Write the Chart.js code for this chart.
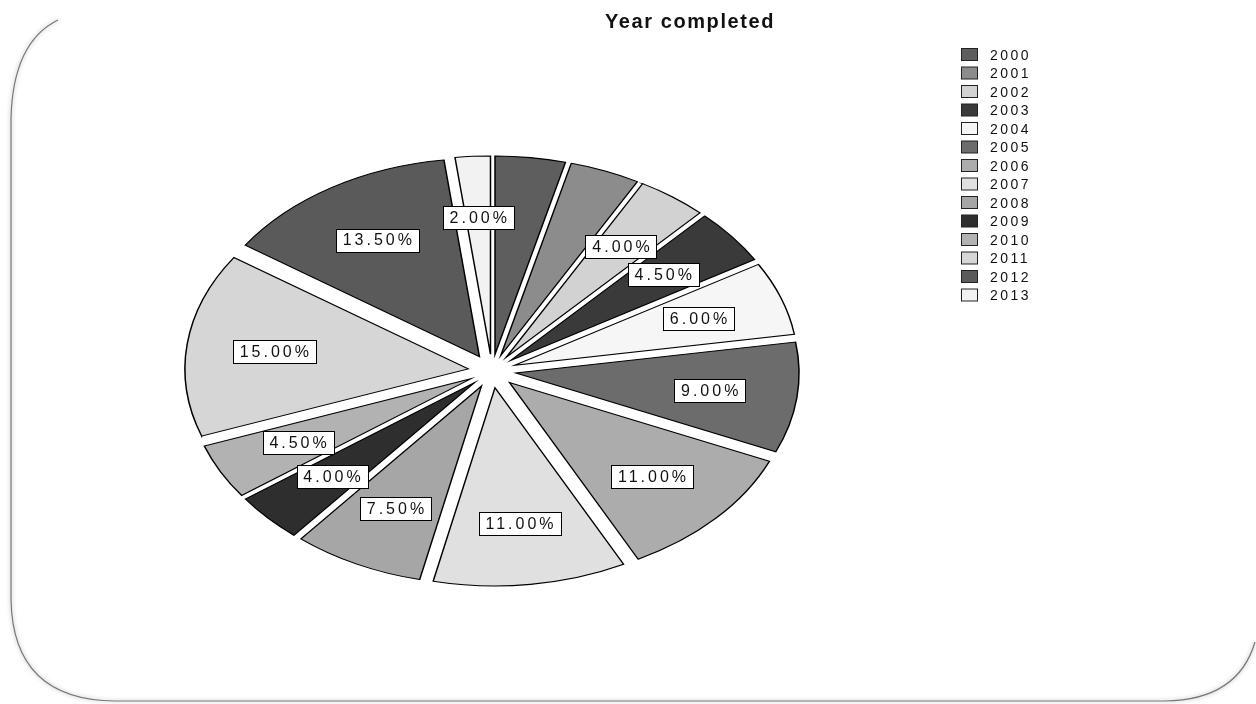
<!DOCTYPE html>
<html>
<head>
<meta charset="utf-8">
<title>Year completed</title>
<script src="https://cdn.jsdelivr.net/npm/chart.js@4.4.1/dist/chart.umd.min.js"></script>
<style>
  html, body { margin: 0; padding: 0; background: #fff; }
  canvas { display: block; }
</style>
</head>
<body>
<canvas id="yearChart" width="1256" height="704"></canvas>
<script>
// data (percent of total)
const years = ['2000', '2001', '2002', '2003', '2004', '2005', '2006',
               '2007', '2008', '2009', '2010', '2011', '2012', '2013'];
const shares = [4, 4, 4, 4.5, 6, 9, 11, 11, 7.5, 4, 4.5, 15, 13.5, 2];
const sliceColors = ['#5e5e5e', '#8c8c8c', '#d2d2d2', '#3a3a3a', '#f6f6f6', '#6c6c6c', '#acacac',
                     '#e0e0e0', '#a6a6a6', '#2e2e2e', '#b2b2b2', '#d6d6d6', '#5a5a5a', '#f2f2f2'];
const hiddenLabels = ['2000', '2001'];
const chartTitle = 'Year completed';

const TILT = 0.7;   // vertical squash, gives the flat "3d" look
const EXPLODE = 24; // px each slice is pulled out along its middle
const FONT = '"Liberation Sans", Arial, sans-serif';

function pieCenter(chart) {
    const a = chart.chartArea;
    return { x: (a.left + a.right) / 2, y: (a.top + a.bottom) / 2 };
}

// soft rounded frame round the page
const framePlugin = {
    id: 'frame',
    beforeDraw(chart) {
        const ctx = chart.ctx;
        ctx.save();
        ctx.strokeStyle = '#777';
        ctx.lineWidth = 1.2;
        ctx.shadowColor = 'rgba(0,0,0,0.35)';
        ctx.shadowBlur = 4;
        ctx.beginPath();
        ctx.moveTo(58, 20);
        ctx.quadraticCurveTo(13, 42, 11, 118);
        ctx.lineTo(11, 600);
        ctx.quadraticCurveTo(13, 700, 115, 701);
        ctx.lineTo(1165, 701);
        ctx.quadraticCurveTo(1238, 700, 1255, 642);
        ctx.stroke();
        ctx.restore();
    }
};

// explode the slices and squash the pie into an ellipse
const tiltPlugin = {
    id: 'tilt',
    beforeDatasetsDraw(chart) {
        const c = pieCenter(chart);
        chart.getDatasetMeta(0).data.forEach(arc => {
            const mid = (arc.startAngle + arc.endAngle) / 2;
            arc.x = c.x + Math.cos(mid) * EXPLODE;
            arc.y = c.y + Math.sin(mid) * EXPLODE;
        });
        const ctx = chart.ctx;
        ctx.save();
        ctx.translate(c.x, c.y);
        ctx.scale(1, TILT);
        ctx.translate(-c.x, -c.y);
    },
    afterDatasetsDraw(chart) {
        chart.ctx.restore();
    }
};

const labelPlugin = {
    id: 'sliceLabels',
    afterDraw(chart) {
        const ctx = chart.ctx;
        const c = pieCenter(chart);
        const meta = chart.getDatasetMeta(0);
        ctx.save();
        ctx.font = '16px ' + FONT;
        ctx.letterSpacing = '3px';
        ctx.textBaseline = 'middle';
        ctx.textAlign = 'left';
        meta.data.forEach((arc, i) => {
            if (hiddenLabels.includes(years[i])) return;
            const mid = (arc.startAngle + arc.endAngle) / 2;
            const r = arc.outerRadius * 0.69 + EXPLODE;
            const lx = c.x + Math.cos(mid) * r;
            const ly = c.y + Math.sin(mid) * r * TILT;
            const text = shares[i].toFixed(2) + '%';
            const w = ctx.measureText(text).width - 3;
            const bw = Math.round(w + 14), bh = 23;
            const bx = Math.round(lx - bw / 2) + 0.5, by = Math.round(ly - bh / 2) + 0.5;
            ctx.fillStyle = '#fff';
            ctx.fillRect(bx, by, bw, bh);
            ctx.strokeStyle = '#000';
            ctx.lineWidth = 1;
            ctx.strokeRect(bx, by, bw, bh);
            ctx.fillStyle = '#111';
            ctx.fillText(text, lx - w / 2, ly + 1);
        });
        ctx.restore();
    }
};

const legendPlugin = {
    id: 'sideLegend',
    afterDraw(chart) {
        const ctx = chart.ctx;
        ctx.save();
        ctx.font = '14px ' + FONT;
        ctx.letterSpacing = '2.5px';
        ctx.textBaseline = 'middle';
        years.forEach((y, i) => {
            const cy = 55 + i * 18.5;
            ctx.fillStyle = sliceColors[i];
            ctx.fillRect(961.5, cy - 6.5, 16, 12);
            ctx.strokeStyle = '#222';
            ctx.lineWidth = 1;
            ctx.strokeRect(961.5, cy - 6.5, 16, 12);
            ctx.fillStyle = '#111';
            ctx.fillText(y, 990, cy + 1);
        });
        // title
        ctx.font = 'bold 20px ' + FONT;
        ctx.letterSpacing = '1.6px';
        ctx.textAlign = 'center';
        ctx.fillStyle = '#111';
        ctx.fillText(chartTitle, 690, 22);
        ctx.restore();
    }
};

new Chart(document.getElementById('yearChart').getContext('2d'), {
    type: 'pie',
    data: {
        labels: years,
        datasets: [{
            data: shares,
            backgroundColor: sliceColors,
            borderColor: '#000',
            borderWidth: 1.5,
            borderJoinStyle: 'miter',
            hoverOffset: 0
        }]
    },
    options: {
        responsive: false,
        animation: false,
        layout: {
            padding: { left: 208, right: 480, top: 87, bottom: 49 }
        },
        plugins: {
            legend: { display: false },
            title: { display: false },
            tooltip: { enabled: false }
        }
    },
    plugins: [framePlugin, tiltPlugin, labelPlugin, legendPlugin]
});
</script>
</body>
</html>
